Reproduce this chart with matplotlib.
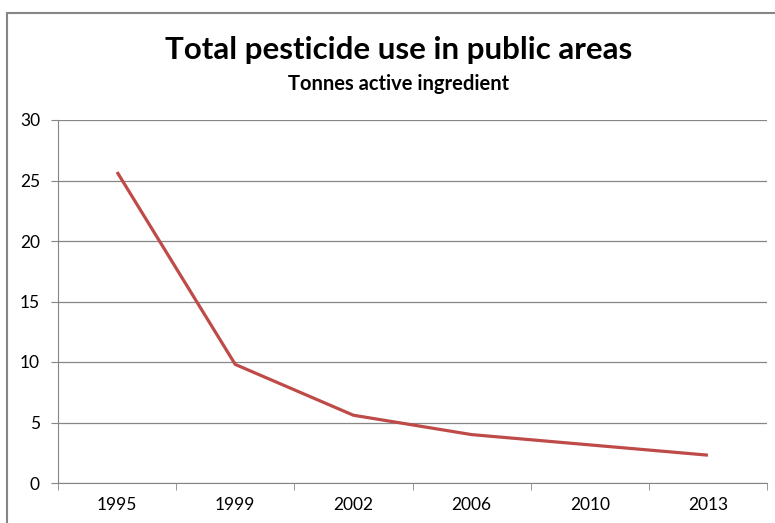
import matplotlib
matplotlib.use("Agg")
import matplotlib.pyplot as plt
from matplotlib.patches import Rectangle

# --- Data ---
years = ["1995", "1999", "2002", "2006", "2010", "2013"]
tonnes = [25.7, 9.8, 5.6, 4.0, 3.15, 2.3]
y_ticks = [0, 5, 10, 15, 20, 25, 30]

plt.rcParams['font.family'] = ['Lato', 'DejaVu Sans']

fig = plt.figure(figsize=(7.75, 5.23), dpi=100)
fig.patch.set_facecolor("white")

# chart frame (cropped on right and bottom like the original)
fig.patches.append(Rectangle((7 / 775, -0.05), 1.1, 1 - 13 / 523 + 0.05,
                             transform=fig.transFigure, fill=False,
                             edgecolor="#868686", linewidth=1.5))

ax = fig.add_axes([58 / 775, 1 - 483 / 523, (767 - 58) / 775, (483 - 120) / 523])

x = list(range(len(years)))
ax.plot(x, tonnes, color="#BE4B48", linewidth=2.3, solid_capstyle="butt")

ax.set_xlim(-0.5, len(years) - 0.5)
ax.set_ylim(0, 30)
ax.set_yticks(y_ticks)
ax.set_xticks(x)
ax.set_xticklabels(years)
ax.set_xticks([i - 0.5 for i in range(len(years) + 1)], minor=True)

ax.grid(axis="y", color="#868686", linewidth=0.9)
ax.set_axisbelow(True)
for side in ["top", "right"]:
    ax.spines[side].set_visible(False)
ax.spines["left"].set_color("#868686")
ax.spines["bottom"].set_color("#868686")

ax.tick_params(axis="x", which="major", length=0, pad=10, labelsize=12.5)
ax.tick_params(axis="x", which="minor", length=5, color="#868686", direction="out")
ax.tick_params(axis="y", length=5, color="#868686", pad=8, labelsize=12.5)

fig.text(0.514, 1 - 50 / 523, "Total pesticide use in public areas",
         ha="center", va="center", fontsize=22.5, fontweight="bold")
fig.text(0.514, 1 - 84 / 523, "Tonnes active ingredient",
         ha="center", va="center", fontsize=14.5, fontweight="bold")

fig.savefig("out.png", dpi=100)
